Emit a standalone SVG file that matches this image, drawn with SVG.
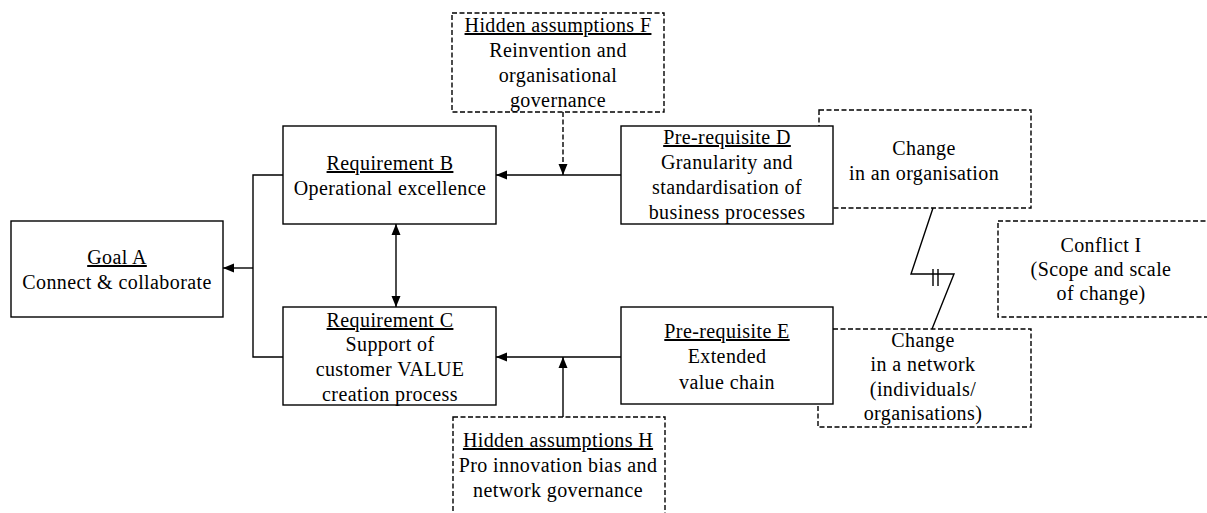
<svg xmlns="http://www.w3.org/2000/svg" width="1207" height="513" viewBox="0 0 1207 513">
<defs>
<marker id="ah" viewBox="0 0 11 10" refX="11" refY="5" markerWidth="11" markerHeight="10" markerUnits="userSpaceOnUse" orient="auto-start-reverse">
<path d="M0,0.5 L11,5 L0,9.5 Z" fill="#000"/>
</marker>
</defs>
<style>
.box{fill:#fff;stroke:#000;stroke-width:1.4}
.dbox{fill:#fff;stroke:#000;stroke-width:1.4;stroke-dasharray:5,2.5}
.ln{fill:none;stroke:#000;stroke-width:1.4}
.dl{fill:none;stroke:#000;stroke-width:1.4;stroke-dasharray:5,2.5}
text{font-family:"Liberation Serif","Times New Roman",serif;font-size:20px;fill:#000;text-anchor:middle;letter-spacing:0.4px}
.u{text-decoration:underline}
</style>
<g id="change-org"><rect class="dbox" x="819" y="110" width="212" height="98"/>
<text x="924" y="155">Change</text><text x="924" y="180">in an organisation</text></g>
<g id="change-net"><rect class="dbox" x="818" y="329" width="213" height="98"/>
<text x="923" y="347">Change</text><text x="923" y="371">in a network</text><text x="923" y="396">(individuals/</text><text x="923" y="420">organisations)</text></g>
<g id="conflict-i"><rect class="dbox" x="998" y="221" width="215" height="96"/>
<text x="1101" y="252">Conflict I</text><text x="1101" y="276">(Scope and scale</text><text x="1101" y="300">of change)</text></g>
<g id="connectors">
<polyline class="ln" points="283,175 253,175 253,357 283,357"/>
<line class="ln" x1="253" y1="268" x2="223" y2="268" marker-end="url(#ah)"/>
<line class="ln" x1="396" y1="224" x2="396" y2="307" marker-start="url(#ah)" marker-end="url(#ah)"/>
<line class="ln" x1="621" y1="175" x2="496" y2="175" marker-end="url(#ah)"/>
<line class="dl" x1="563" y1="112" x2="563" y2="175" marker-end="url(#ah)"/>
<line class="ln" x1="621" y1="357" x2="496" y2="357" marker-end="url(#ah)"/>
<line class="ln" x1="563" y1="417" x2="563" y2="357" marker-end="url(#ah)"/>
<polyline class="ln" points="933,208 911,274 954,274 932,329"/>
<line class="ln" x1="933" y1="269" x2="933" y2="286"/>
<line class="ln" x1="938" y1="269" x2="938" y2="286"/>
</g>
<g id="goal-a"><rect class="box" x="11" y="221" width="212" height="96"/>
<text class="u" x="117" y="264">Goal A</text><text x="117" y="289">Connect &amp; collaborate</text></g>
<g id="req-b"><rect class="box" x="283" y="126" width="213" height="98"/>
<text class="u" x="390" y="170">Requirement B</text><text x="390" y="195">Operational excellence</text></g>
<g id="req-c"><rect class="box" x="283" y="307" width="213" height="98"/>
<text class="u" x="390" y="327">Requirement C</text><text x="390" y="351">Support of</text><text x="390" y="376">customer VALUE</text><text x="390" y="401">creation process</text></g>
<g id="pre-d"><rect class="box" x="621" y="126" width="212" height="98"/>
<text class="u" x="727" y="144">Pre-requisite D</text><text x="727" y="169">Granularity and</text><text x="727" y="194">standardisation of</text><text x="727" y="219">business processes</text></g>
<g id="pre-e"><rect class="box" x="621" y="307" width="212" height="97"/>
<text class="u" x="727" y="338">Pre-requisite E</text><text x="727" y="363">Extended</text><text x="727" y="389">value chain</text></g>
<g id="hidden-f"><rect class="dbox" x="452" y="13" width="212" height="99"/>
<text class="u" x="558" y="32">Hidden assumptions F</text><text x="558" y="57">Reinvention and</text><text x="558" y="82">organisational</text><text x="558" y="107">governance</text></g>
<g id="hidden-h"><rect class="dbox" x="453" y="417" width="212" height="105"/>
<text class="u" x="558" y="447">Hidden assumptions H</text><text x="558" y="472">Pro innovation bias and</text><text x="558" y="497">network governance</text></g>
</svg>
